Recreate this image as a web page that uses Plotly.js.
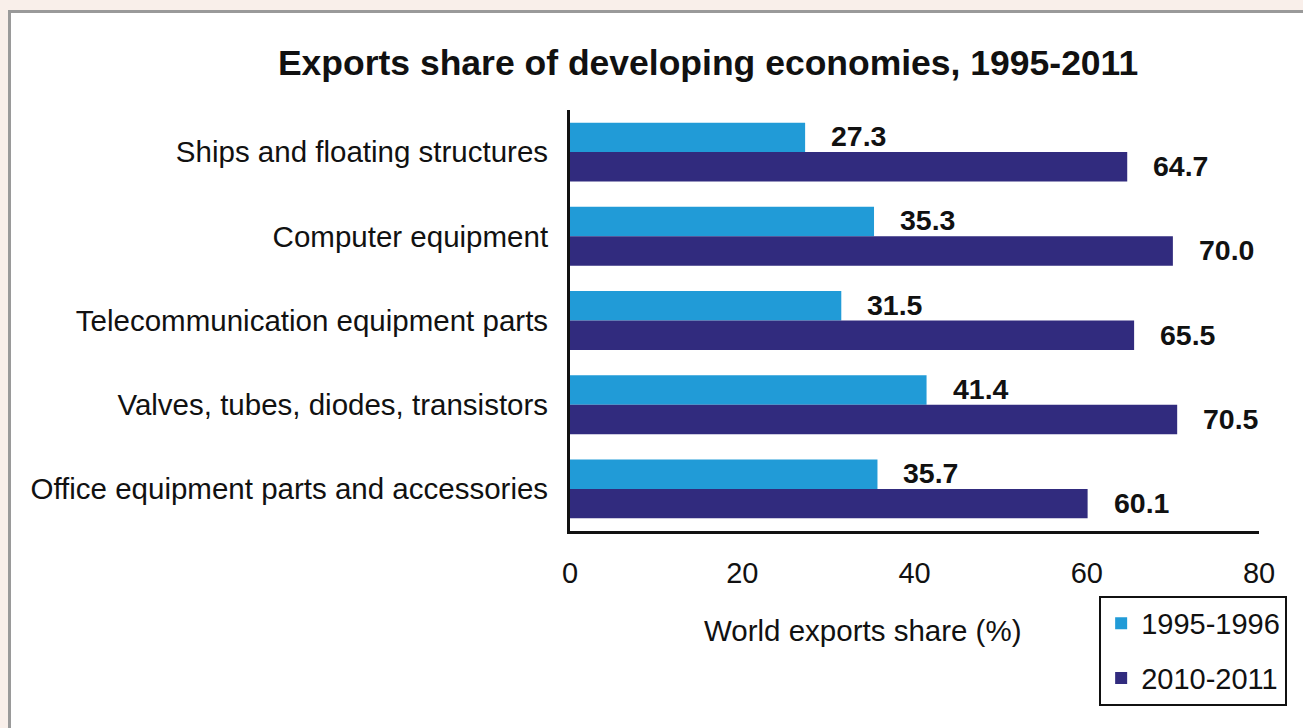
<!DOCTYPE html>
<html>
<head>
<meta charset="utf-8">
<script src="https://cdn.plot.ly/plotly-3.0.1.min.js"></script>
<style>
  html, body { margin: 0; padding: 0; background: #f9efea; width: 1303px; height: 728px; overflow: hidden; }
  #frame { position: absolute; left: 8px; top: 10px; width: 1295px; height: 718px; background: #ffffff;
           border-top: 3px solid #9a9a9a; border-left: 3px solid #9a9a9a; box-sizing: border-box; }
  #chart { width: 1292px; height: 715px; }
</style>
</head>
<body>
<div id="frame"><div id="chart"></div></div>
<script>
const categories = [
  "Ships and floating structures",
  "Computer equipment",
  "Telecommunication equipment parts",
  "Valves, tubes, diodes, transistors",
  "Office equipment parts and accessories"
];
const series1Name = "1995-1996";
const series2Name = "2010-2011";
const values1995 = [27.3, 35.3, 31.5, 41.4, 35.7];
const values2010 = [64.7, 70.0, 65.5, 70.5, 60.1];
const xTickVals = [0, 20, 40, 60, 80];
const xTickText = ["0", "20", "40", "60", "80"];
const chartTitle = "Exports share of developing economies, 1995-2011";
const xTitle = "World exports share (%)";

const FONT = "Liberation Sans, Arial, Helvetica, sans-serif";
const lightBlue = "#219bd7";
const darkBlue = "#312b7e";

const traces = [
  { type: "bar", orientation: "h", name: series1Name, x: values1995, y: categories,
    marker: { color: lightBlue }, legendgroup: "a", hoverinfo: "x+y" },
  { type: "bar", orientation: "h", name: series2Name, x: values2010, y: categories,
    marker: { color: darkBlue }, legendgroup: "b", hoverinfo: "x+y" }
];

const annotations = [];
values1995.forEach((v, i) => annotations.push({
  x: v, y: categories[i], xref: "x", yref: "y", text: v.toFixed(1), showarrow: false,
  xanchor: "left", yanchor: "middle", xshift: 24, yshift: 16,
  font: { family: FONT, size: 28.5, color: "#111111", weight: "bold" }
}));
values2010.forEach((v, i) => annotations.push({
  x: v, y: categories[i], xref: "x", yref: "y", text: v.toFixed(1), showarrow: false,
  xanchor: "left", yanchor: "middle", xshift: 24, yshift: -14,
  font: { family: FONT, size: 28.5, color: "#111111", weight: "bold" }
}));
annotations.push({
  x: 0.425, y: -0.2375, xref: "paper", yref: "paper", text: xTitle, showarrow: false,
  xanchor: "center", yanchor: "middle", font: { family: FONT, size: 29.5, color: "#111111" }
});

const layout = {
  width: 1292, height: 715,
  paper_bgcolor: "#ffffff", plot_bgcolor: "#ffffff",
  margin: { l: 559, r: 44, t: 97, b: 197 },
  font: { family: FONT, size: 29, color: "#111111" },
  title: { text: "<b>" + chartTitle + "</b>", x: 0.5395, xref: "container", xanchor: "center",
           y: 0.931, yref: "container", yanchor: "middle",
           font: { family: FONT, size: 35.5, color: "#111111" } },
  barmode: "group", bargap: 0.3, bargroupgap: 0,
  xaxis: { range: [0, 80], tickvals: xTickVals, ticktext: xTickText, showgrid: false, zeroline: false,
           showline: true, linewidth: 3, linecolor: "#111111", ticks: "", ticklabelstandoff: 14,
           tickfont: { family: FONT, size: 29, color: "#111111" }, fixedrange: true },
  yaxis: { autorange: "reversed", showgrid: false, zeroline: false, showline: true, linewidth: 3,
           linecolor: "#111111", ticks: "", ticklabelstandoff: 13,
           tickfont: { family: FONT, size: 29.5, color: "#111111" }, fixedrange: true },
  showlegend: true,
  legend: { x: 0.768, y: -0.154, xanchor: "left", yanchor: "top", bgcolor: "#ffffff",
            bordercolor: "#111111", borderwidth: 2, traceorder: "grouped", tracegroupgap: 14,
            font: { family: FONT, size: 29, color: "#111111" }, itemwidth: 30 },
  annotations: annotations
};

Plotly.newPlot("chart", traces, layout, { displayModeBar: false, staticPlot: true });
</script>
</body>
</html>
